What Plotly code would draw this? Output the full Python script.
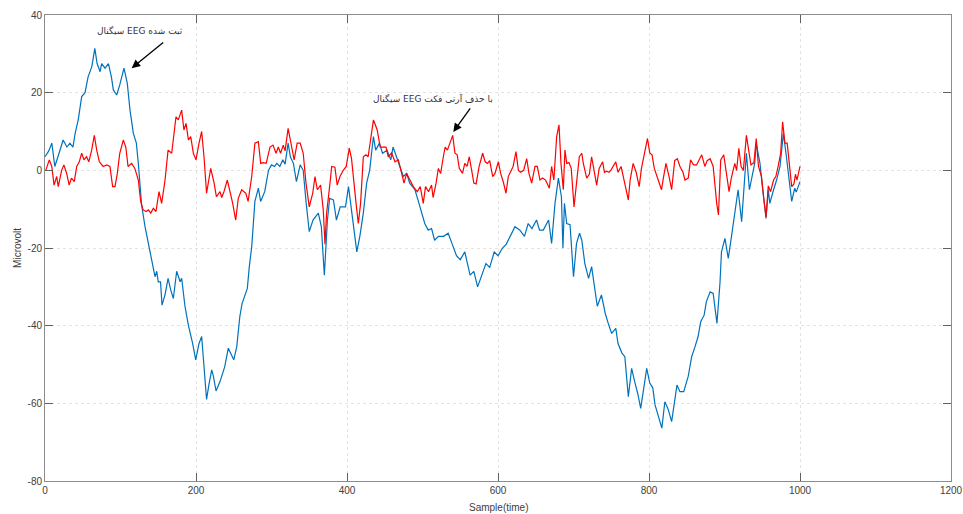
import plotly.graph_objects as go

# ---------------- data ----------------
blue_x = [0, 5, 9, 13, 18, 24, 29, 33, 37, 40, 44, 48.6, 53, 57, 62, 66, 69, 73, 75, 79.5, 84, 88, 90.5, 95, 99,
          104.6, 109, 112.6, 117, 121, 123.6, 128, 132.5, 137, 141, 145.7, 148, 150, 153, 155, 159, 163, 166.5, 170,
          174.4, 179, 181, 185.4, 190, 195.6, 199.6, 204, 207.5, 212, 214, 217, 220.8, 223, 226.5, 231.8, 238, 242.8,
          247, 250, 254, 256, 258, 261, 265, 268, 270.6, 273.8, 276, 278, 282.6, 285.6, 291, 296, 300, 304, 307, 311,
          315, 318, 322, 325, 329, 333, 338, 342, 345.7, 350, 355, 362, 366, 370, 374, 377, 382, 386, 391, 398, 402,
          406, 410.6, 413, 417, 421.6, 426, 430, 435, 438, 443, 447, 453, 458, 461, 466, 470, 474.6, 479, 483, 490,
          494, 499, 503, 507.6, 512, 516, 521, 528, 534, 539, 545, 550, 556, 563, 568, 573, 578, 584, 589, 595, 600,
          606, 611, 616, 622.5, 629, 635, 640, 645, 651, 655, 660, 667, 671, 675.5, 680, 684, 686, 688, 691, 695.4,
          700, 704, 708, 711, 715, 720, 724, 728, 731.5, 737, 742, 746, 750.6, 756, 759, 764, 768, 772.6, 777, 781,
          785, 789, 793, 797, 801, 805, 808, 812, 817, 821, 825, 830, 834, 837, 841, 846, 852, 856.5, 861, 865, 868.5,
          873, 876, 881, 885, 887, 890, 894, 896, 900.6, 905, 909.5, 914, 918, 922.7, 926, 929, 933, 937, 940, 942,
          947, 950.6, 955, 958, 960, 965, 969, 973.5, 978, 982, 986.7, 989, 993, 995, 1000]
blue_y = [3.5, 5, 7, 1, 4, 7.8, 6, 7, 6, 9.6, 13, 19, 20, 24, 26.7, 31.4, 27.5, 25.4, 27.5, 26.3, 27.5, 24, 20.7, 19.4,
          22, 26.3, 22.4, 15.5, 9.5, 7, 1.8, -9, -14.5, -19, -23, -27.4, -26, -28.7, -28.7, -34.7, -32, -27.8, -30.8,
          -33, -26, -28.7, -27.8, -35, -40, -44.6, -48.8, -44.6, -42.8, -54.8, -59, -55.3, -51.4, -53, -56.8, -54.4,
          -50.6, -45.8, -47.6, -48.8, -45.4, -41, -37.7, -34.3, -31.7, -30.4, -24.8, -19.7, -13.6, -8, -4.6, -8, -5.5,
          0, 1.4, 1, 1.8, 1, 2.7, 1.6, 7, 3.5, 1.8, -2.9, 1.4, 0, -8, -15.8, -12.8, -11, -14.5, -27, -13, -7.2, -7.6,
          -12.8, -9.4, -9.4, -4.2, -10.2, -16.2, -21, -17, -11, -3.3, 0, 8.7, 5.2, 7, 4.4, 5.2, 2.7, 6, 3.5, 1, -1.6,
          -0.8, -3.3, -5, -7.6, -11, -13.7, -15.4, -15, -18, -17, -17, -16.2, -18.8, -22, -23, -21, -27, -26, -30,
          -27, -24, -25, -21, -22, -20, -19, -17, -14.5, -15.4, -17, -13.7, -15, -12.8, -15.4, -15.4, -12.8, -18.8,
          -8.5, -2, -6.8, -20, -8.5, -13.7, -14, -27.4, -18.8, -16.2, -18, -24, -27.8, -24.8, -30.4, -35, -32.1,
          -36.8, -39.4, -42, -40.7, -44.6, -47, -48, -58.3, -51, -54.4, -57.4, -61.3, -56, -51, -54.8, -56, -60.4,
          -63.4, -66.4, -59.6, -61.3, -64.7, -59.2, -55.3, -57, -57, -53, -48, -45.4, -42.8, -39, -37.3, -33.8, -31.3,
          -31.7, -35, -39.4, -29, -21, -17.5, -22.7, -16.7, -10.2, -5, -13.2, -3.3, 4.4, -5, -0.8, 1.8, 7, 1.8, -5,
          -12.4, -5, -8.5, -5, -2.5, 1, 9.5, 3.5, -5, -8, -4.6, -5.6, -2.9]

red_x = [1, 5.7, 9, 12, 15.5, 17.6, 22, 25, 28.7, 32, 35, 38.8, 42, 45.4, 48.6, 51.7, 55, 58, 61.8, 65.3, 68.5, 72, 77,
         81.7, 86, 89.6, 92.7, 95.8, 99, 103.7, 107, 110, 114.8, 119, 123.6, 126.7, 130, 134, 137, 140, 143.5, 147,
         151, 154.5, 159, 163, 167.8, 173.5, 176.6, 181, 184, 186.8, 190, 193, 196.5, 200, 204, 207.5, 210.6, 214,
         219.5, 224, 227, 231.8, 234, 237, 241.5, 245, 248.6, 252.6, 256, 260.5, 263, 266, 269, 273.8, 278, 282.6,
         285.7, 289, 293, 298, 302, 306, 309, 312, 315.6, 318, 322, 325, 330, 334, 338, 342, 345.7, 350, 354.6,
         357.6, 360.7, 365, 368.6, 370.8, 373, 377.5, 379.7, 384, 387, 390.7, 395, 399, 403, 406, 409, 412, 415, 418,
         421.6, 425, 428, 431, 435, 437, 440, 444, 448, 451.6, 454.7, 459, 463.6, 468, 472.4, 475.5, 479, 483.4,
         487.8, 493, 497, 501, 504, 508, 512, 514, 518, 521, 524, 527.6, 530, 533, 536, 540, 543, 546, 548.7, 553,
         556, 559, 562, 565, 568, 571, 575, 579.7, 583, 586, 589, 593, 596, 600.5, 603.5, 607, 610.6, 613.6, 617,
         620, 623.8, 627, 630, 634, 638, 641, 644.6, 649, 652, 655.6, 659, 663, 668, 671, 674, 677.7, 680.8, 683.4,
         686.5, 688.7, 691, 694, 697, 700.7, 704, 707.7, 711, 713, 717.5, 721, 724, 727, 730.7, 734, 738.6, 741, 744,
         747, 750, 756, 759, 763, 767, 772.6, 775, 779, 783, 787, 790, 795, 798, 801, 804, 807, 811, 816.6, 819,
         822.5, 827, 830, 834, 837.5, 841, 845, 847.7, 852, 855, 859, 863, 866, 869.8, 874, 877, 881, 885, 889.7,
         892, 895, 899, 902, 906, 909, 913.6, 916, 919, 922, 925, 929, 932, 935, 939, 942, 945, 949, 952, 955, 958,
         961, 965, 968, 971, 974.4, 977, 980, 983, 986, 989, 992, 994, 996, 1000]
red_y = [0, 2.7, 1, -3.8, -1.6, -4.2, 0, 1.4, -0.8, -3.8, -2, -2.9, 1, 2.2, 4.4, 2.7, 3.5, 2.2, 5.2, 9, 5.2, 2.2, 1,
         1.4, 1, -4.2, -4.2, -0.8, 4.4, 7.8, 6, 1, 1.8, 0.5, -2.5, -8, -10.2, -10.6, -10.2, -11, -9.8, -10.6, -5.5,
         -8.5, -2.5, 5.2, 4.4, 13.8, 13, 15.5, 10.4, 12.1, 7.8, 8.7, 4.4, 2.7, 7, 10, 3.5, -5.9, 0.5, -3.3, -6.8,
         -5.5, -7, -5.5, -2.5, -5.5, -8.5, -12.8, -7.2, -5, -5.5, -5.9, -8, -1.6, 7, 7.4, 1.8, 2, 1.8, 6, 6.5, 4.4, 6,
         4.4, 6.5, 5, 10.8, 7.8, 2.7, 7, 7, 4.4, -3.3, -9.4, -5.9, -1.6, -5, -3.8, -10.2, -19, -11, -3.3, 1, 0.8,
         -3.8, -1.6, 0, 1, 5.7, 3, -3.3, -8.5, -13.7, -8.5, 3.5, 4, 3.5, 7.8, 13, 12, 10.4, 6, 6, 6, 3.5, 4.5, 2.2,
         2.7, -0.8, -3.3, -0.8, -2.5, -4.2, -5.5, -4.2, -8.5, -4.2, -5.5, -3.8, -7, -3.3, 0.5, -0.8, 3.5, 6, 5.2, 7,
         9, 4.4, 4, 0.5, -0.8, 1.8, 1, 3.5, 0, -3.3, -3.5, 1, 4.4, 2.2, 1.8, 2.5, -1.6, -0.8, 2.2, -0.8, -3, -5.9,
         -1.6, 0, 1, 4.8, 0, -0.5, 0, 3, -0.8, -3.3, 1, 1, -2.5, -2, -2.5, -4.6, 1, -2.5, 8.7, 11.7, 1.8, -5, 5.2,
         1.8, 2, 0.5, -9.4, -3.3, 3.5, 4.4, 1.8, -2, -1, 3.5, 0.5, -3.8, 0.5, 2.2, -0.5, -0.2, -0.5, 0.2, 2.2, -0.5,
         1, -2.5, -7.6, -2.5, 1.8, -0.5, -4.2, 0.5, 6, 8.2, 4.5, 4, 0.5, -2, -5, -2, 1.8, -2, -5, 2.5, 3, 1, -0.5,
         -2.5, -2, 2.7, 1.4, 1.4, 2.5, 4, 1, 2.5, 3, 1, -8.5, -11.5, 2.7, 4, 0, -5.5, -2, 1.8, 0, 5.7, 1, 0, 9, 5,
         1.4, 2, 8.2, 1, -1.6, -7.2, -12, -4, -5.5, -2.5, -1.6, 1, 4.4, 12.5, 7, 7, 1, -4.2, -3.5, -1, -2.5, 1]

x_ticks = [0, 200, 400, 600, 800, 1000, 1200]
y_ticks = [-80, -60, -40, -20, 0, 20, 40]

label_raw = "سیگنال EEG ثبت شده"
label_clean = "سیگنال EEG با حذف آرتی فکت"
x_title = "Sample(time)"
y_title = "Microvolt"

# ---------------- figure ----------------
fig = go.Figure()
fig.add_trace(go.Scatter(x=blue_x, y=blue_y, mode="lines", name=label_raw,
                         line=dict(color="#0072BD", width=1.2)))
fig.add_trace(go.Scatter(x=red_x, y=red_y, mode="lines", name=label_clean,
                         line=dict(color="#FF0000", width=1.2)))

FONT = "Liberation Sans, Arial, sans-serif"
axis_common = dict(
    showgrid=True, gridcolor="#e3e3e3", griddash="dot", gridwidth=1,
    zeroline=False, showline=True, linecolor="#8c8c8c", linewidth=1, mirror="ticks",
    ticks="inside", ticklen=8, tickcolor="#606060", tickwidth=1, automargin=False,
    tickfont=dict(family=FONT, size=10, color="#404040"),
)

fig.update_xaxes(range=[0, 1200], tickvals=x_ticks, ticktext=[str(v) for v in x_ticks],
                 ticklabeloverflow="allow", **axis_common)
fig.update_yaxes(range=[-80, 40], tickvals=y_ticks, ticktext=[str(v) for v in y_ticks], **axis_common)

title_font = dict(family=FONT, size=10, color="#404040")
fig.add_annotation(x=600, y=-0.056, xref="x", yref="paper", text=x_title, showarrow=False,
                   font=title_font, xanchor="center", yanchor="middle")
fig.add_annotation(x=-0.031, y=-20, xref="paper", yref="y", text=y_title, showarrow=False,
                   font=title_font, textangle=-90, xanchor="center", yanchor="middle")

ann_font = dict(family="DejaVu Sans, Liberation Sans, sans-serif", size=9, color="#333333")

# text labels
fig.add_annotation(x=125.8, y=36.1, text=label_raw, showarrow=False, font=ann_font)
fig.add_annotation(x=513.9, y=18.6, text=label_clean, showarrow=False, font=ann_font)
# arrows
fig.add_annotation(x=114.8, y=26.3, text="", showarrow=True, ax=33, ay=-27,
                   arrowhead=2, arrowsize=1.3, arrowwidth=1.3, arrowcolor="black")
fig.add_annotation(x=540.8, y=9.9, text="", showarrow=True, ax=18, ay=-25,
                   arrowhead=2, arrowsize=1.3, arrowwidth=1.3, arrowcolor="black")

fig.update_layout(
    width=963, height=514,
    margin=dict(l=45, r=12, t=15, b=33),
    paper_bgcolor="white", plot_bgcolor="white",
    showlegend=False,
)

# remove the default page margin so the 963x514 figure fills the window exactly
fig.write_html("out.html", config={"displayModeBar": False},
               post_script="document.body.style.margin='0';document.body.style.overflow='hidden';")
